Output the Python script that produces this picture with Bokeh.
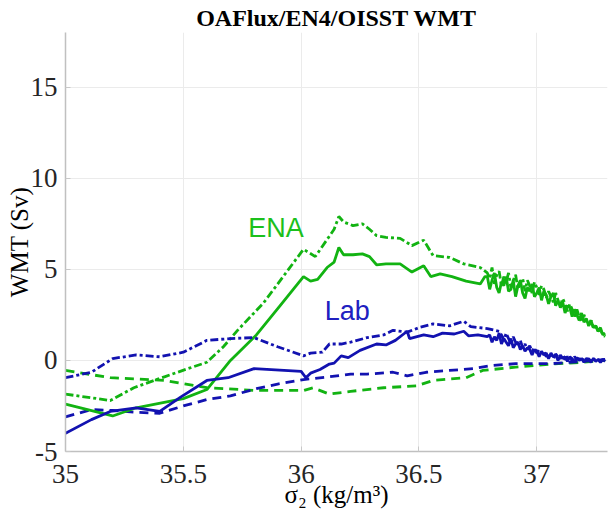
from bokeh.plotting import figure
from bokeh.models import Range1d, FixedTicker, Label
from bokeh.embed import file_html
from bokeh.resources import INLINE

# ---------------- data ----------------
x_ticks = [35, 35.5, 36, 36.5, 37]
y_ticks = [-5, 0, 5, 10, 15]

# ENA (green)
ena_solid_x = [35.0, 35.2, 35.3, 35.5, 35.6, 35.7, 35.81, 35.91, 36.01, 36.04, 36.07, 36.11, 36.14, 36.16,
               36.18, 36.22, 36.26, 36.29, 36.32, 36.36, 36.42, 36.47, 36.52, 36.55, 36.59, 36.64, 36.70,
               36.76, 36.78,
               36.79, 36.80, 36.81, 36.82, 36.83, 36.84, 36.85, 36.86, 36.87, 36.88, 36.89, 36.90, 36.91,
               36.92, 36.93, 36.94, 36.95, 36.96, 36.97, 36.98, 36.99, 37.00, 37.01, 37.02, 37.03, 37.04,
               37.05, 37.06, 37.07, 37.08, 37.09, 37.10, 37.11, 37.12, 37.13, 37.14, 37.15, 37.16, 37.17,
               37.18, 37.19, 37.20, 37.21, 37.22, 37.23, 37.24, 37.25, 37.26, 37.27, 37.28, 37.29]
ena_solid_y = [-2.4, -3.05, -2.6, -2.1, -1.6, 0.0, 1.4, 3.0, 4.6, 4.35, 4.45, 5.1, 5.4, 6.2,
               5.8, 5.8, 5.85, 5.7, 5.25, 5.3, 5.3, 4.85, 5.2, 4.6, 4.75, 4.6, 4.35,
               4.2, 4.6,
               4.6, 3.9, 4.4, 4.8, 4.0, 3.7, 4.3, 4.1, 4.6, 3.8, 3.9, 4.4, 3.5,
               4.1, 4.4, 3.7, 3.4, 4.0, 3.8, 4.2, 3.5, 3.7, 4.0, 3.3, 3.8, 3.6,
               3.1, 3.5, 3.7, 3.0, 3.3, 2.9, 3.2, 2.6, 3.0, 2.9, 2.4, 2.8, 2.5,
               2.2, 2.6, 2.1, 2.3, 1.9, 2.2, 1.8, 1.9, 1.6, 1.8, 1.4, 1.5]

ena_dashdot_x = [35.0, 35.19, 35.29, 35.42, 35.52, 35.6, 35.67, 35.73, 35.84, 36.01, 36.06, 36.14, 36.16,
                 36.18, 36.22, 36.26, 36.29, 36.32, 36.36, 36.42, 36.47, 36.52, 36.56, 36.63, 36.69,
                 36.76, 36.79,
                 36.80, 36.81, 36.82, 36.83, 36.84, 36.85, 36.86, 36.87, 36.88, 36.89, 36.90, 36.91,
                 36.92, 36.93, 36.94, 36.95, 36.96, 36.97, 36.98, 36.99, 37.00, 37.01, 37.02, 37.03, 37.04,
                 37.05, 37.06, 37.07, 37.08, 37.09, 37.10, 37.11, 37.12, 37.13, 37.14, 37.15, 37.16, 37.17,
                 37.18, 37.19, 37.20, 37.21, 37.22, 37.23, 37.24, 37.25, 37.26, 37.27, 37.28, 37.29]
ena_dashdot_y = [-1.85, -2.2, -1.5, -0.9, -0.45, -0.1, 0.75, 1.65, 3.15, 6.1, 5.7, 7.2, 7.9,
                 7.6, 7.4, 7.5, 7.2, 6.85, 6.75, 6.7, 6.3, 6.6, 5.75, 5.65, 5.3,
                 5.1, 4.8,
                 4.5, 5.1, 4.2, 4.7, 4.9, 4.1, 4.6, 4.3, 4.8, 4.0, 4.4, 4.7,
                 3.9, 4.3, 4.5, 3.8, 4.4, 4.1, 3.7, 4.3, 4.0, 3.6, 4.1, 3.9, 3.4,
                 3.8, 3.5, 3.2, 3.7, 3.3, 3.0, 3.4, 3.1, 2.7, 3.1, 2.8, 2.4, 2.8,
                 2.4, 2.1, 2.5, 2.2, 1.9, 2.2, 1.8, 1.9, 1.6, 1.7, 1.4, 1.3]

ena_dashed_x = [35.0, 35.19, 35.42, 35.6, 35.81, 36.01, 36.05, 36.12, 36.21, 36.35, 36.49, 36.56, 36.70,
                36.77, 36.91, 37.06, 37.2, 37.29]
ena_dashed_y = [-0.55, -0.95, -1.1, -1.5, -1.65, -1.65, -1.5, -1.85, -1.7, -1.5, -1.4, -1.1, -0.95,
                -0.55, -0.37, -0.2, -0.1, 0.0]

# Lab (blue)
lab_solid_x = [35.0, 35.11, 35.19, 35.3, 35.4, 35.49, 35.6, 35.69, 35.8, 36.0, 36.02, 36.04, 36.08, 36.12,
               36.14, 36.17, 36.2, 36.25, 36.32, 36.36, 36.40, 36.45, 36.46, 36.52, 36.56, 36.60, 36.65,
               36.69, 36.71, 36.75, 36.79,
               36.80, 36.81, 36.82, 36.83, 36.84, 36.85, 36.86, 36.87, 36.88, 36.89, 36.90, 36.91,
               36.92, 36.93, 36.94, 36.95, 36.96, 36.97, 36.98, 36.99, 37.00, 37.01, 37.02, 37.03, 37.04,
               37.05, 37.06, 37.07, 37.08, 37.09, 37.10, 37.11, 37.12, 37.13, 37.14, 37.15, 37.16, 37.17,
               37.18, 37.19, 37.20, 37.21, 37.22, 37.23, 37.24, 37.25, 37.26, 37.27, 37.28, 37.29]
lab_solid_y = [-4.0, -3.25, -2.8, -2.6, -2.8, -2.0, -1.1, -0.95, -0.45, -0.6, -0.95, -0.7, -0.5, -0.2,
               -0.15, 0.25, 0.15, 0.55, 0.9, 0.85, 1.1, 1.6, 1.2, 1.4, 1.3, 1.5, 1.45,
               1.6, 1.35, 1.4, 1.3,
               1.4, 1.0, 1.3, 1.1, 1.5, 0.9, 1.2, 1.0, 0.8, 1.2, 0.7, 0.9,
               1.0, 0.6, 0.8, 0.5, 0.7, 0.6, 0.3, 0.6, 0.5, 0.2, 0.5, 0.3, 0.4,
               0.1, 0.4, 0.2, 0.3, 0.0, 0.3, 0.1, 0.2, -0.05, 0.2, 0.1, -0.1, 0.15,
               0.0, 0.1, -0.1, 0.1, 0.05, -0.1, 0.1, -0.05, 0.05, -0.1, 0.05, -0.05]

lab_dashdot_x = [35.0, 35.11, 35.2, 35.3, 35.4, 35.5, 35.6, 35.7, 35.8, 35.9, 36.01, 36.04, 36.09, 36.12,
                 36.17, 36.21, 36.28, 36.35, 36.39, 36.45, 36.5, 36.56, 36.63, 36.69, 36.72, 36.79, 36.84,
                 36.85, 36.86, 36.87, 36.88, 36.89, 36.90, 36.91,
                 36.92, 36.93, 36.94, 36.95, 36.96, 36.97, 36.98, 36.99, 37.00, 37.01, 37.02, 37.03, 37.04,
                 37.05, 37.06, 37.07, 37.08, 37.09, 37.10, 37.11, 37.12, 37.13, 37.14, 37.15, 37.16, 37.17,
                 37.18, 37.19, 37.20, 37.21, 37.22, 37.23, 37.24, 37.25, 37.26, 37.27, 37.28, 37.29]
lab_dashdot_y = [-0.95, -0.65, 0.1, 0.3, 0.2, 0.45, 1.1, 1.2, 1.25, 0.75, 0.25, 0.4, 0.45, 0.9,
                 0.9, 1.0, 1.25, 1.4, 1.65, 1.55, 1.8, 2.0, 1.9, 2.15, 1.85, 1.75, 1.6,
                 1.4, 1.1, 1.5, 1.2, 0.9, 1.3, 1.0,
                 0.8, 1.1, 0.7, 0.9, 0.6, 0.8, 0.5, 0.7, 0.4, 0.6, 0.4, 0.5, 0.2,
                 0.4, 0.3, 0.1, 0.35, 0.2, 0.1, 0.3, 0.05, 0.2, 0.1, 0.0, 0.2, 0.05,
                 0.1, -0.05, 0.15, 0.0, 0.1, -0.05, 0.1, 0.0, 0.05, -0.05, 0.05, 0.0]

lab_dashed_x = [35.0, 35.11, 35.2, 35.3, 35.4, 35.5, 35.6, 35.7, 35.81, 35.9, 36.01, 36.12, 36.21, 36.28,
                36.39, 36.45, 36.53, 36.63, 36.73, 36.81, 36.91, 37.06, 37.2, 37.29]
lab_dashed_y = [-3.1, -2.7, -2.75, -2.85, -2.9, -2.5, -2.15, -1.95, -1.55, -1.3, -1.05, -0.9, -0.75, -0.75,
                -0.65, -0.85, -0.65, -0.55, -0.45, -0.28, -0.18, -0.18, -0.05, 0.05]

# texts
title_text = "OAFlux/EN4/OISST WMT"
ylabel_text = "WMT (Sv)"
xlabel_text = "σ₂ (kg/m³)"

# ---------------- figure ----------------
GREEN = "#12b312"
BLUE = "#1212b0"
SERIF = "Liberation Serif"
X0, X1, Y0, Y1 = 35, 37.3, -5, 18

p = figure(width=612, height=512, output_backend="svg", toolbar_location=None,
           x_range=Range1d(X0, X1), y_range=Range1d(Y0, Y1),
           min_border_left=65, min_border_right=5, min_border_top=32, min_border_bottom=61,
           title=title_text)
p.outline_line_color = None
p.background_fill_color = "white"
p.border_fill_color = "white"

p.title.align = "center"
p.title.text_font = SERIF
p.title.text_font_size = "24px"
p.title.text_font_style = "bold"
p.title.text_color = "black"
p.title.standoff = 4

for ax, ticks in ((p.xaxis[0], x_ticks), (p.yaxis[0], y_ticks)):
    ax.ticker = FixedTicker(ticks=ticks)
    ax.minor_tick_line_color = None
    ax.major_tick_in = 5
    ax.major_tick_out = 0
    ax.major_tick_line_color = "#c8c8c8"
    ax.axis_line_color = "#c0c0c0"
    ax.axis_line_width = 1.5
    ax.major_label_text_font = SERIF
    ax.major_label_text_font_size = "27px"
    ax.major_label_text_color = "#262626"
    ax.axis_label_text_font = SERIF
    ax.axis_label_text_font_size = "25px"
    ax.axis_label_text_font_style = "normal"
    ax.axis_label_text_color = "black"

p.xaxis.major_label_standoff = 13
p.yaxis.major_label_standoff = 8
p.xaxis.axis_label_standoff = -5
p.yaxis.axis_label_standoff = -5
p.yaxis.major_label_overrides = {-5: "-5"}
p.xaxis.axis_label = xlabel_text
p.yaxis.axis_label = ylabel_text

p.xgrid.ticker = FixedTicker(ticks=x_ticks)
p.ygrid.ticker = FixedTicker(ticks=y_ticks)
p.grid.grid_line_color = "#ebebeb"
p.grid.grid_line_width = 1

LW = 2.8
DASH = "9 6"
DASHDOT = "8 3 3 3"

p.line(ena_dashed_x, ena_dashed_y, color=GREEN, line_width=LW, line_dash=DASH)
p.line(lab_dashed_x, lab_dashed_y, color=BLUE, line_width=LW, line_dash=DASH)
p.line(ena_dashdot_x, ena_dashdot_y, color=GREEN, line_width=LW, line_dash=DASHDOT)
p.line(ena_solid_x, ena_solid_y, color=GREEN, line_width=LW)
p.line(lab_dashdot_x, lab_dashdot_y, color=BLUE, line_width=LW, line_dash=DASHDOT)
p.line(lab_solid_x, lab_solid_y, color=BLUE, line_width=LW)

p.add_layout(Label(x=35.775, y=7.25, text="ENA", text_color="#1cc01c",
                   text_font="Liberation Sans", text_font_size="27px", text_baseline="alphabetic"))
p.add_layout(Label(x=36.10, y=2.7, text="Lab", text_color="#2020c0",
                   text_font="Liberation Sans", text_font_size="27px", text_baseline="alphabetic"))

open("out.html", "w").write(file_html(p, INLINE))
